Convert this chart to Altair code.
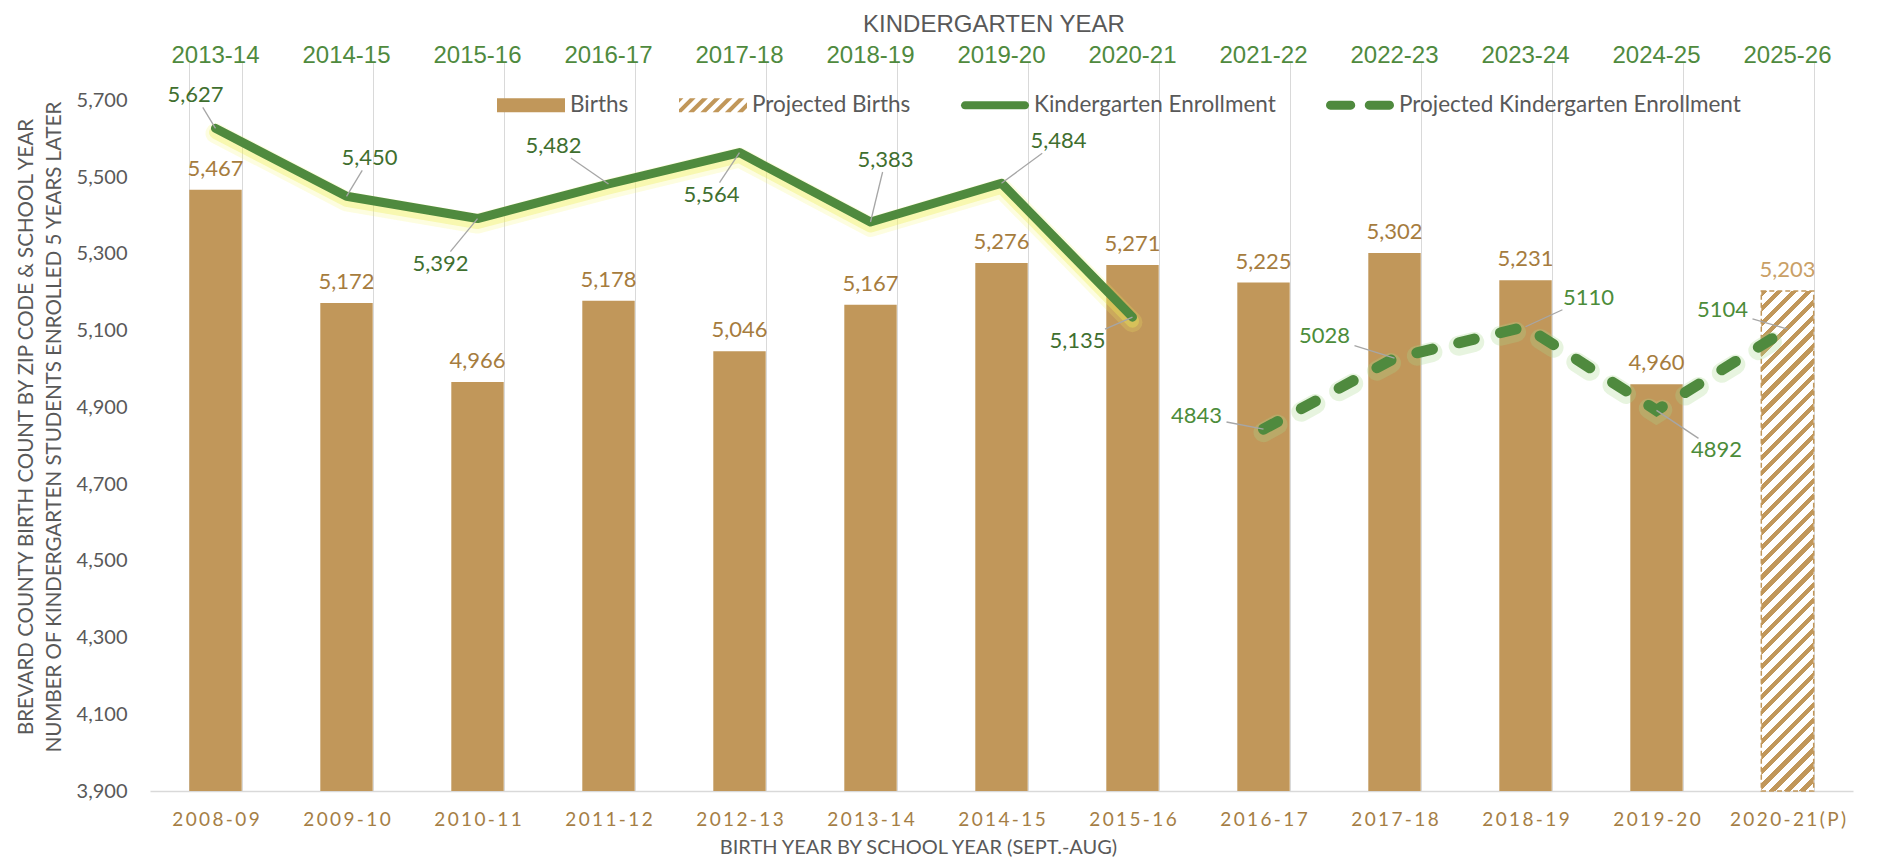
import math
import altair as alt
import pandas as pd

# ---------------- data ----------------
birth_years = ["2008-09", "2009-10", "2010-11", "2011-12", "2012-13", "2013-14", "2014-15",
               "2015-16", "2016-17", "2017-18", "2018-19", "2019-20", "2020-21(P)"]
kinder_years = ["2013-14", "2014-15", "2015-16", "2016-17", "2017-18", "2018-19", "2019-20",
                "2020-21", "2021-22", "2022-23", "2023-24", "2024-25", "2025-26"]
births = [5467, 5172, 4966, 5178, 5046, 5167, 5276, 5271, 5225, 5302, 5231, 4960, 5203]
births_is_projected = [False] * 12 + [True]
enrollment_years = birth_years[:8]
enrollment = [5627, 5450, 5392, 5482, 5564, 5383, 5484, 5135]
projected_years = birth_years[8:]
projected_enrollment = [4843, 5028, 5110, 4892, 5104]
series_names = ["Births", "Projected Births", "Kindergarten Enrollment",
                "Projected Kindergarten Enrollment"]
top_title = "KINDERGARTEN YEAR"

# label placement (pixel offsets of each enrollment label from its point)
label_dx = [-20, 23, -37, -55, -28, 15, 57, -55, -67, -70, 63, 60, -65]
label_dy = [-33, -38, 45, -38, 42, -62, -42, 24, -13, -22, -29, 40, -19]

# ---------------- style ----------------
W, H = 1703, 729
Y_MIN, Y_MAX = 3900, 5800
BAR = "#c1975a"
BAR_LABEL = "#a67c3e"
PROJ_LABEL = "#c9a066"
GREEN = "#4f8a3e"
GREEN_DARK = "#3f6f2f"
GREEN_LABEL = "#4c8c3a"
GRAY = "#595959"
GRID = "#d9d9d9"
FONT = "Lato"


def leader(dx, dy, hw=30, hh=12):
    s = min(hw / abs(dx) if dx else 9e9, hh / abs(dy) if dy else 9e9)
    f = max(0.0, 1 - s)
    return dx * f, dy * f


rows = []
for i, (c, v) in enumerate(zip(enrollment_years, enrollment)):
    lx, ly = leader(label_dx[i], label_dy[i])
    rows.append(dict(birth_year=c, enroll=v, ldx=label_dx[i], ldy=label_dy[i], lx=lx, ly=ly))
df_solid = pd.DataFrame(rows)
rows = []
for j, (c, v) in enumerate(zip(projected_years, projected_enrollment)):
    i = 8 + j
    lx, ly = leader(label_dx[i], label_dy[i])
    rows.append(dict(birth_year=c, enroll=v, ldx=label_dx[i], ldy=label_dy[i], lx=lx, ly=ly))
df_proj = pd.DataFrame(rows)

df_births = pd.DataFrame(dict(birth_year=birth_years, kinder_year=kinder_years,
                              births=births, projected=births_is_projected))

# ---------------- encodings ----------------
x_enc = alt.X(
    "birth_year:N", sort=birth_years,
    scale=alt.Scale(domain=birth_years, paddingInner=0.6, paddingOuter=0.3),
    axis=alt.Axis(
        title="BIRTH YEAR BY SCHOOL YEAR (SEPT.-AUG)",
        labelExpr="join(split(datum.label, ''), '\u2009')",
        labelFont=FONT, labelFontSize=19, labelColor="#a57e45", labelAngle=0,
        labelPadding=19, ticks=False, tickSize=0, tickBand="extent",
        domain=True, domainColor=GRID, domainWidth=1.5,
        grid=True, gridColor=GRID, gridWidth=1,
        titleFont=FONT, titleFontSize=20, titleFontWeight="normal", titleColor=GRAY,
        titleX=768, titleAlign="center", titlePadding=8,
    ),
)


def y_enc(field):
    return alt.Y(
        field, type="quantitative",
        scale=alt.Scale(domain=[Y_MIN, Y_MAX], nice=False, zero=False),
        axis=alt.Axis(
            values=list(range(3900, 5701, 200)), format=",.0f",
            labelFont=FONT, labelFontSize=20, labelColor=GRAY, labelPadding=23,
            ticks=False, tickSize=0, domain=False, grid=False,
            title=["BREVARD COUNTY BIRTH COUNT BY ZIP CODE & SCHOOL YEAR",
                   "NUMBER OF KINDERGARTEN STUDENTS ENROLLED 5 YEARS LATER"],
            titleFont=FONT, titleFontSize=20.5, titleFontWeight="normal", titleColor=GRAY,
            titleLineHeight=28, titleX=-124, titleY=H / 2, titleBaseline="middle",
            titleAlign="center", titleAngle=270,
        ),
    )


# ---------------- hatched fill for the projected bar ----------------
step = W / 13.0
bar_w = step * 0.4
bar_h = (births[-1] - Y_MIN) * H / (Y_MAX - Y_MIN)
a = bar_w / bar_h
s = (a + 1) / (a * a + 1)          # gradient vector reaches the far corner
diag = (bar_w + bar_h) / math.sqrt(2)
n_periods = max(1, int(round(diag / 10.6)))
stops = []
frac = 0.42
for k in range(n_periods):
    p0 = k / n_periods
    p1 = (k + frac) / n_periods
    p2 = (k + 1) / n_periods
    stops += [alt.GradientStop(color=BAR, offset=p0), alt.GradientStop(color=BAR, offset=p1),
              alt.GradientStop(color="#ffffff", offset=p1), alt.GradientStop(color="#ffffff", offset=p2)]
hatch = alt.LinearGradient(gradient="linear", stops=stops, x1=0, y1=0, x2=a * s, y2=s)

# ---------------- legend symbol paths (custom paths span [-1, 1]) ----------------
def rect_path(hw, hh):
    return f"M{-hw:.4f},{-hh:.4f}H{hw:.4f}V{hh:.4f}H{-hw:.4f}Z"


def pill_path(x0, x1, r):
    return (f"M{x0+r:.4f},{-r:.4f}H{x1-r:.4f}A{r:.4f},{r:.4f} 0 0 1 {x1-r:.4f},{r:.4f}"
            f"H{x0+r:.4f}A{r:.4f},{r:.4f} 0 0 1 {x0+r:.4f},{-r:.4f}Z")


def clip_x(poly, lo, hi):
    def clip(pts, inside, inter):
        out = []
        for p_a, p_b in zip(pts, pts[1:] + pts[:1]):
            if inside(p_b):
                if not inside(p_a):
                    out.append(inter(p_a, p_b))
                out.append(p_b)
            elif inside(p_a):
                out.append(inter(p_a, p_b))
        return out

    def ix(p_a, p_b, xv):
        t = (xv - p_a[0]) / (p_b[0] - p_a[0])
        return (xv, p_a[1] + t * (p_b[1] - p_a[1]))
    p = clip(poly, lambda q: q[0] >= lo, lambda p_a, p_b: ix(p_a, p_b, lo))
    if p:
        p = clip(p, lambda q: q[0] <= hi, lambda p_a, p_b: ix(p_a, p_b, hi))
    return p


hh = 0.206
stripe_parts = []
x0 = -1 - 2 * hh - 0.4
while x0 < 1:
    poly = [(x0, hh), (x0 + 0.17, hh), (x0 + 0.17 + 2 * hh, -hh), (x0 + 2 * hh, -hh)]
    cp = clip_x(poly, -1, 1)
    if len(cp) >= 3:
        stripe_parts.append("M" + "L".join(f"{px:.4f},{py:.4f}" for px, py in cp) + "Z")
    x0 += 0.36
hatch_path = "".join(stripe_parts)
series_paths = [rect_path(1, hh), hatch_path, pill_path(-1, 1, 0.12),
                pill_path(-1, -0.14, 0.13) + pill_path(0.14, 1, 0.13)]
series_colors = [BAR, BAR, GREEN, GREEN]

# ---------------- layers ----------------
base_b = alt.Chart(df_births)

bars = base_b.transform_filter("!datum.projected").mark_bar(color=BAR).encode(
    x=x_enc, y=y_enc("births"), y2=alt.datum(Y_MIN))
proj_bar = base_b.transform_filter("datum.projected").mark_bar(
    fill=hatch, stroke=BAR, strokeWidth=1.5, strokeDash=[5, 3]).encode(
    x=x_enc, y=y_enc("births"), y2=alt.datum(Y_MIN))

birth_labels = base_b.transform_filter("!datum.projected").mark_text(
    font=FONT, fontSize=22, color=BAR_LABEL, baseline="alphabetic", dy=-14).encode(
    x=x_enc, y=y_enc("births"), text=alt.Text("births:Q", format=","))
proj_birth_label = base_b.transform_filter("datum.projected").mark_text(
    font=FONT, fontSize=22, color=PROJ_LABEL, baseline="alphabetic", dy=-14).encode(
    x=x_enc, y=y_enc("births"), text=alt.Text("births:Q", format=","))

top_labels = base_b.mark_text(
    font="Liberation Sans", fontSize=24, color=GREEN, baseline="alphabetic").encode(
    x=x_enc, y=alt.value(1), text="kinder_year:N")

title_mark = alt.Chart(pd.DataFrame({"t": [top_title]})).mark_text(
    font="Liberation Sans", fontSize=24, color=GRAY, baseline="alphabetic").encode(
    x=alt.value(844), y=alt.value(-30), text="t:N")

solid = alt.Chart(df_solid)
glow1 = solid.mark_line(color="#f4f466", opacity=0.2, strokeWidth=20, yOffset=5,
                        strokeJoin="round", strokeCap="round").encode(x=x_enc, y=y_enc("enroll"))
glow2 = solid.mark_line(color="#eeee55", opacity=0.35, strokeWidth=13, yOffset=4,
                        strokeJoin="round", strokeCap="round").encode(x=x_enc, y=y_enc("enroll"))
line = solid.mark_line(color=GREEN, strokeWidth=9, strokeJoin="round",
                       strokeCap="round").encode(x=x_enc, y=y_enc("enroll"))

proj = alt.Chart(df_proj)
DASH = [16, 27]
pglow = proj.mark_line(color="#a9d68c", opacity=0.28, strokeWidth=20, yOffset=3,
                       strokeDash=DASH, strokeCap="round").encode(x=x_enc, y=y_enc("enroll"))
pline = proj.mark_line(color=GREEN, strokeWidth=11, strokeDash=DASH,
                       strokeCap="round").encode(x=x_enc, y=y_enc("enroll"))


def leaders(src):
    return src.mark_rule(color="#a6a6a6", strokeWidth=1.3,
                         x2Offset=alt.ExprRef(expr="datum.lx"),
                         y2Offset=alt.ExprRef(expr="datum.ly")).encode(
        x=x_enc, x2=alt.X2("birth_year:N"), y=y_enc("enroll"), y2=alt.Y2("enroll:Q"))


solid_labels = solid.mark_text(font=FONT, fontSize=22, color=GREEN_DARK, baseline="middle",
                               dx=alt.ExprRef(expr="datum.ldx"),
                               dy=alt.ExprRef(expr="datum.ldy")).encode(
    x=x_enc, y=y_enc("enroll"), text=alt.Text("enroll:Q", format=","))
proj_labels = proj.mark_text(font=FONT, fontSize=22, color=GREEN_LABEL, baseline="middle",
                             dx=alt.ExprRef(expr="datum.ldx"),
                             dy=alt.ExprRef(expr="datum.ldy")).encode(
    x=x_enc, y=y_enc("enroll"), text=alt.Text("enroll:Q", format="d"))

legend_props = dict(title=None, orient="none", legendX=347, legendY=9, direction="horizontal",
                    symbolSize=4624, symbolStrokeWidth=0, symbolOpacity=1,
                    labelFont=FONT, labelFontSize=22.5, labelColor=GRAY, labelOffset=5,
                    labelLimit=500, columnPadding=50, padding=0)
legend_layer = alt.Chart(pd.DataFrame({"series": series_names})).transform_filter(
    "false").mark_point(filled=True, size=4624, opacity=1).encode(
    color=alt.Color("series:N", scale=alt.Scale(domain=series_names, range=series_colors),
                    legend=alt.Legend(**legend_props)),
    shape=alt.Shape("series:N", scale=alt.Scale(domain=series_names, range=series_paths),
                    legend=alt.Legend(**legend_props)),
)

chart = alt.layer(
    bars, proj_bar, birth_labels, proj_birth_label,
    glow1, glow2, line, pglow, pline,
    leaders(solid), leaders(proj), solid_labels, proj_labels,
    top_labels, title_mark, legend_layer,
).properties(
    width=W, height=H,
    autosize=alt.AutoSizeParams(type="none"),
    padding={"left": 142, "top": 54, "right": 14, "bottom": 69},
    background="white",
).configure_view(stroke=None)

chart.save("out.html", embed_options={"renderer": "svg", "actions": False})
